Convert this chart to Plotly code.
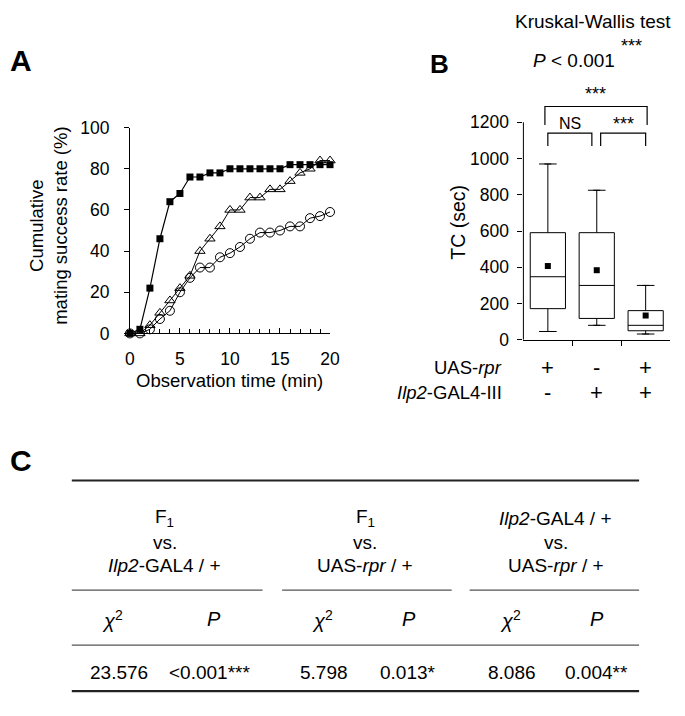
import plotly.graph_objects as go

W, H = 685, 716
FONT = "Liberation Sans, Arial, sans-serif"

# ---------------- Panel A data ----------------
minutes = list(range(0, 21))
f1_rate = [0, 2, 22, 46, 64, 68, 76, 76, 78, 78, 80, 80, 80, 80, 80, 80, 82, 82, 82, 82, 82]
uas_rpr_rate = [0, 0, 4, 10, 16, 22, 28, 40, 46, 52, 60, 60, 66, 66, 70, 70, 74, 78, 80, 84, 84]
ilp2_gal4_rate = [0, 0, 2, 7, 11, 20, 27, 32, 32, 37, 39, 42, 46, 49, 49, 50, 52, 52, 56, 57, 59]
a_x_ticks = [0, 5, 10, 15, 20]
a_y_ticks = [0, 20, 40, 60, 80, 100]

# ---------------- Panel B data ----------------
box_pos = [0, 1, 2]
box_q1 = [172, 118, 50]
box_median = [348, 300, 80]
box_q3 = [591, 591, 161]
box_lower = [46, 80, 32]
box_upper = [970, 825, 300]
box_mean = [407, 384, 134]
b_y_ticks = [0, 200, 400, 600, 800, 1000, 1200]
uas_rpr_signs = ["+", "-", "+"]
ilp2_signs = ["-", "+", "+"]

# ---------------- Panel C data ----------------
comp_top = ["F<sub>1</sub>", "F<sub>1</sub>", "<i>Ilp2</i>-GAL4 / +"]
comp_mid = ["vs.", "vs.", "vs."]
comp_bottom = ["<i>Ilp2</i>-GAL4 / +", "UAS-<i>rpr</i> / +", "UAS-<i>rpr</i> / +"]
chi2_values = ["23.576", "5.798", "8.086"]
p_values = ["<0.001***", "0.013*", "0.004**"]


def px(x):
    return x / W


def py(y):
    return 1 - y / H


fig = go.Figure()

# Panel A traces
fig.add_trace(go.Scatter(x=minutes, y=ilp2_gal4_rate, mode="lines+markers", name="Ilp2-GAL4 / +",
                         line=dict(color="black", width=1),
                         marker=dict(symbol="circle-open", size=9, color="black", line=dict(width=1)),
                         cliponaxis=False, xaxis="x", yaxis="y"))
fig.add_trace(go.Scatter(x=minutes, y=uas_rpr_rate, mode="lines+markers", name="UAS-rpr / +",
                         line=dict(color="black", width=1),
                         marker=dict(symbol="triangle-up-open", size=9, color="black", line=dict(width=1)),
                         cliponaxis=False, xaxis="x", yaxis="y"))
fig.add_trace(go.Scatter(x=minutes, y=f1_rate, mode="lines+markers", name="F1",
                         line=dict(color="black", width=1.2),
                         marker=dict(symbol="square", size=7, color="black"),
                         cliponaxis=False, xaxis="x", yaxis="y"))

# Panel B traces
fig.add_trace(go.Box(x=box_pos, q1=box_q1, median=box_median, q3=box_q3,
                     lowerfence=box_lower, upperfence=box_upper, width=0.72,
                     fillcolor="white", line=dict(color="black", width=1),
                     boxpoints=False, xaxis="x2", yaxis="y2", name="TC"))
fig.add_trace(go.Scatter(x=box_pos + box_pos, y=box_lower + box_upper, mode="markers",
                         marker=dict(symbol="line-ew", size=5, color="black",
                                     line=dict(width=1, color="black")),
                         xaxis="x2", yaxis="y2", cliponaxis=False, hoverinfo="skip"))
fig.add_trace(go.Scatter(x=box_pos, y=box_mean, mode="markers",
                         marker=dict(symbol="square", size=6, color="black"),
                         xaxis="x2", yaxis="y2", cliponaxis=False, name="mean"))

axis_common = dict(showgrid=False, zeroline=False, color="black", linecolor="black",
                   linewidth=1, tickcolor="black", tickwidth=1,
                   tickfont=dict(size=17.5, family=FONT, color="black"))

b_top_px = 80
b_zero_px = 339.3
b_units_per_px = 1200 / (339.3 - 115.5)

fig.update_layout(
    width=W, height=H, margin=dict(l=0, r=0, t=0, b=0),
    paper_bgcolor="white", plot_bgcolor="white", showlegend=False,
    font=dict(family=FONT, color="black", size=18),
    xaxis=dict(domain=[px(127.7), px(332.3)], range=[0, 20], anchor="y",
               tickvals=a_x_ticks, ticks="inside", ticklen=5, showline=True,
               minor=dict(ticks="inside", dtick=1, ticklen=4, tickcolor="black"),
               ticklabelstandoff=10, **axis_common),
    yaxis=dict(domain=[py(332.7), py(121)], range=[0, 100], anchor="x",
               tickvals=a_y_ticks, ticks="outside", ticklen=5, showline=True,
               ticklabelstandoff=11, **axis_common),
    xaxis2=dict(domain=[px(530), px(680)], range=[-0.5, 2.5], anchor="y2",
                tickvals=[0.5, 1.5], showticklabels=False, ticks="outside", ticklen=5,
                showline=True, **axis_common),
    yaxis2=dict(domain=[py(b_zero_px), py(b_top_px)],
                range=[0, (b_zero_px - b_top_px) * b_units_per_px], anchor="x2",
                tickvals=b_y_ticks, ticks="outside", ticklen=5, showline=False,
                ticklabelstandoff=5, **axis_common),
)

shapes = []
# panel B y axis line (only up to 1200)
shapes.append(dict(type="line", xref="x2 domain", yref="y2", x0=0, x1=0, y0=0, y1=max(b_y_ticks),
                   line=dict(color="black", width=1)))
# significance brackets (data coords of panel B)
brackets = [
    (-0.06, 2.03, 1185, 1287),
    (0.0, 0.9, 1069, 1140),
    (1.08, 2.0, 1069, 1140),
]
for x0, x1, yl, yt in brackets:
    shapes.append(dict(type="path", xref="x2", yref="y2",
                       path=f"M {x0},{yl} L {x0},{yt} L {x1},{yt} L {x1},{yl}",
                       line=dict(color="black", width=1.2)))

# Table lines
tl, tr = 68.3, 648.3
shapes.append(dict(type="line", xref="paper", yref="paper", x0=px(tl), x1=px(tr), y0=py(484), y1=py(484),
                   line=dict(color="#222", width=2.2)))
shapes.append(dict(type="line", xref="paper", yref="paper", x0=px(tl), x1=px(tr), y0=py(700.7), y1=py(700.7),
                   line=dict(color="#222", width=2.2)))
shapes.append(dict(type="line", xref="paper", yref="paper", x0=px(tl), x1=px(tr), y0=py(653.3), y1=py(653.3),
                   line=dict(color="#555", width=1.2)))
for s0, s1 in [(68.3, 263.3), (283.3, 456.7), (475, 648.3)]:
    shapes.append(dict(type="line", xref="paper", yref="paper", x0=px(s0), x1=px(s1), y0=py(596.7), y1=py(596.7),
                       line=dict(color="#555", width=1.2)))
fig.update_layout(shapes=shapes)

ann = []


def add_text(text, x, y, size=19, xanchor="center", angle=0, bold=False, xref="paper", yref="paper"):
    ann.append(dict(text=(f"<b>{text}</b>" if bold else text),
                    x=(px(x) if xref == "paper" else x), y=(py(y) if yref == "paper" else y),
                    xref=xref, yref=yref, xanchor=xanchor, yanchor="middle",
                    showarrow=False, textangle=angle,
                    font=dict(size=size, family=FONT, color="black")))


# Panel letters
add_text("A", 16, 52, size=30, bold=True)
add_text("B", 444, 56, size=26, bold=True)
add_text("C", 16, 463, size=30, bold=True)

# Panel A titles
add_text("Cumulative<br>mating success rate (%)", 45, 222, size=18.5, angle=-90)
add_text("Observation time (min)", 230, 381, size=18.5)

# Panel B texts
add_text("Kruskal-Wallis test", 601, 12, size=19)
add_text("<i>P</i> < 0.001", 582, 52, size=19)
add_text("***", 641, 37, size=18)
add_text("TC (sec)", 463, 218, size=19.5, angle=-90)
add_text("***", 604, 86, size=18)
add_text("NS", 578, 117, size=16)
add_text("***", 632, 117, size=18)
add_text("UAS-<i>rpr</i>", 510, 368, size=18.5, xanchor="right")
add_text("<i>Ilp2</i>-GAL4-III", 510, 393, size=18.5, xanchor="right")
for xi, s in zip(box_pos, uas_rpr_signs):
    ann.append(dict(text=s, x=xi, y=py(368), xref="x2", yref="paper", showarrow=False,
                    xanchor="center", yanchor="middle", font=dict(size=22, family=FONT, color="black")))
for xi, s in zip(box_pos, ilp2_signs):
    ann.append(dict(text=s, x=xi, y=py(393), xref="x2", yref="paper", showarrow=False,
                    xanchor="center", yanchor="middle", font=dict(size=22, family=FONT, color="black")))

# Table texts
col_centers = [163.3, 368.3, 563.3]
chi_hdr_x = [110, 325, 516.7]
p_hdr_x = [213.3, 412.7, 605]
chi_val_x = [116.7, 326, 518.3]
p_val_x = [209, 411.7, 605]
for i in range(3):
    add_text(comp_top[i], col_centers[i], 523)
    add_text(comp_mid[i], col_centers[i], 547.3)
    add_text(comp_bottom[i], col_centers[i], 571.7)
    add_text("<i>χ</i><sup>2</sup>", chi_hdr_x[i], 626.7, size=20)
    add_text("<i>P</i>", p_hdr_x[i], 626.7, size=20)
    add_text(chi2_values[i], chi_val_x[i], 681.7)
    add_text(p_values[i], p_val_x[i], 681.7)

fig.update_layout(annotations=ann)

fig.write_html("out.html", config={"displayModeBar": False},
               post_script="document.body.style.margin='0';")
